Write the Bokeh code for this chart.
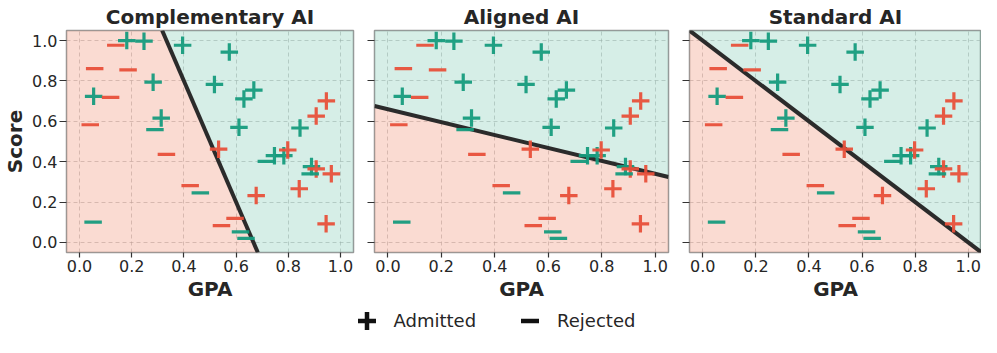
import numpy as np
from bokeh.plotting import figure
from bokeh.layouts import row, column
from bokeh.models import (Range1d, FixedTicker, PrintfTickFormatter, Legend,
                          LegendItem, ColumnDataSource, CustomJSTickFormatter)
from bokeh.core.properties import field
from bokeh.embed import file_html
from bokeh.resources import INLINE

# ---------------- data ----------------
titles = ["Complementary AI", "Aligned AI", "Standard AI"]
# decision boundary: a*GPA + b*Score = c  (admit side >= c)
boundary_a = [3.0, 0.32, 1.0]
boundary_b = [1.0, 1.0, 1.0]
boundary_c = [2.0, 0.66, 1.0]

gpa = [0.181, 0.247, 0.395, 0.574, 0.282, 0.517, 0.054, 0.668, 0.630, 0.313,
       0.611, 0.845, 0.747, 0.783, 0.889,
       0.533, 0.946, 0.907, 0.798, 0.907, 0.965, 0.842, 0.677, 0.945,
       0.289, 0.716, 0.463, 0.052, 0.617, 0.638, 0.884,
       0.139, 0.058, 0.186, 0.119, 0.041, 0.333, 0.424, 0.596, 0.544]
score = [1.000, 0.997, 0.977, 0.943, 0.794, 0.783, 0.724, 0.755, 0.711, 0.616,
         0.570, 0.567, 0.430, 0.430, 0.376,
         0.462, 0.701, 0.626, 0.458, 0.364, 0.340, 0.266, 0.232, 0.092,
         0.559, 0.402, 0.245, 0.101, 0.052, 0.020, 0.340,
         0.977, 0.861, 0.855, 0.719, 0.583, 0.436, 0.281, 0.119, 0.083]
admitted = [1] * 15 + [1] * 9 + [0] * 7 + [0] * 9
qualified = [1] * 15 + [0] * 9 + [1] * 7 + [0] * 9

tick_values = [0.0, 0.2, 0.4, 0.6, 0.8, 1.0]
axis_lo, axis_hi = -0.05, 1.05
legend_labels = ["Admitted", "Rejected"]

# ---------------- style ----------------
GREEN = "#169b7d"
RED = "#e8503a"
SHADE_GREEN = "#5bbb9f"
SHADE_RED = "#eb6f4b"
FONT = "DejaVu Sans"
TXT = "#262626"


def clip_halfplane(poly, a, b, c, keep_ge):
    out = []
    n = len(poly)
    for i in range(n):
        p, q = poly[i], poly[(i + 1) % n]
        fp = a * p[0] + b * p[1] - c
        fq = a * q[0] + b * q[1] - c
        if not keep_ge:
            fp, fq = -fp, -fq
        if fp >= 0:
            out.append(p)
        if (fp >= 0) != (fq >= 0):
            t = fp / (fp - fq)
            out.append((p[0] + t * (q[0] - p[0]), p[1] + t * (q[1] - p[1])))
    return out


src = ColumnDataSource(dict(
    x=gpa, y=score,
    m=["cross" if a else "dash" for a in admitted],
    col=[GREEN if q else RED for q in qualified],
))

rect = [(axis_lo, axis_lo), (axis_hi, axis_lo), (axis_hi, axis_hi), (axis_lo, axis_hi)]

figs = []
widths = [363, 315, 303]
borders_left = [59, 11, 11]
borders_right = [10, 10, 0]
for i, t in enumerate(titles):
    p = figure(width=widths[i], height=305, x_range=Range1d(axis_lo, axis_hi),
               y_range=Range1d(axis_lo, axis_hi), toolbar_location=None,
               output_backend="svg", min_border_left=borders_left[i],
               min_border_right=borders_right[i], min_border_top=28,
               min_border_bottom=53)
    p.title.text = t
    p.title.align = "center"
    p.title.text_font = FONT
    p.title.text_font_size = "20px"
    p.title.text_font_style = "bold"
    p.title.text_color = TXT
    p.title.standoff = 4
    p.outline_line_color = "#999999"
    p.outline_line_width = 1.5

    a, b, c = boundary_a[i], boundary_b[i], boundary_c[i]
    good = clip_halfplane(rect, a, b, c, True)
    bad = clip_halfplane(rect, a, b, c, False)
    p.patch([q[0] for q in bad], [q[1] for q in bad], fill_color=SHADE_RED,
            fill_alpha=0.25, line_color=None)
    p.patch([q[0] for q in good], [q[1] for q in good], fill_color=SHADE_GREEN,
            fill_alpha=0.25, line_color=None)
    seg = [q for q in good if abs(a * q[0] + b * q[1] - c) < 1e-9]
    p.line([q[0] for q in seg], [q[1] for q in seg], line_color="#2b2b2b",
           line_width=4)

    p.scatter("x", "y", marker=field("m"), source=src, line_color="col",
              fill_color="col", size=17.5, line_width=3.2, line_alpha=0.95)

    for ax in (p.xaxis[0], p.yaxis[0]):
        ax.ticker = FixedTicker(ticks=tick_values)
        ax.formatter = PrintfTickFormatter(format="%.1f")
        ax.axis_line_color = None
        ax.major_tick_line_color = "#333333"
        ax.major_tick_line_width = 1.2
        ax.minor_tick_line_color = None
        ax.major_tick_in = 0
        ax.major_label_text_font = FONT
        ax.major_label_text_font_size = "16px"
        ax.major_label_text_color = TXT
        ax.axis_label_text_font = FONT
        ax.axis_label_text_font_size = "20px"
        ax.axis_label_text_font_style = "bold"
        ax.axis_label_text_color = TXT
    p.xaxis.major_tick_out = 5
    p.xaxis.major_label_standoff = 2
    p.xaxis.axis_label = "GPA"
    p.xaxis.axis_label_standoff = 2
    p.yaxis.major_tick_out = 7
    if i == 0:
        p.yaxis.axis_label = "Score"
        p.yaxis.major_label_standoff = 2
        p.yaxis.axis_label_standoff = 2
    else:
        p.yaxis.formatter = CustomJSTickFormatter(code="return ''")
        p.yaxis.major_label_standoff = 0
    p.grid.ticker = FixedTicker(ticks=tick_values)
    p.grid.grid_line_color = "#b0b0b0"
    p.grid.grid_line_alpha = 0.6
    p.grid.grid_line_dash = "4 3"
    p.grid.grid_line_width = 1
    figs.append(p)

# ---------------- legend ----------------
leg = figure(width=981, height=30, x_range=Range1d(0, 1), y_range=Range1d(0, 1),
             toolbar_location=None, output_backend="svg", min_border=0,
             x_axis_location=None, y_axis_location=None)
leg.grid.visible = False
leg.outline_line_color = None
r_adm = leg.scatter([np.nan], [np.nan], marker="cross", size=18,
                    line_color="#111111", line_width=4.5)
r_rej = leg.scatter([np.nan], [np.nan], marker="dash", size=18,
                    line_color="#111111", line_width=4.5)
legend = Legend(items=[LegendItem(label=legend_labels[0], renderers=[r_adm]),
                       LegendItem(label=legend_labels[1], renderers=[r_rej])],
                orientation="horizontal", location=(343.5, -7.5),
                glyph_width=45, glyph_height=45, padding=0, margin=0,
                spacing=31, label_standoff=5, border_line_color=None,
                background_fill_alpha=0, label_text_font=FONT,
                label_text_font_size="18px", label_text_color=TXT)
leg.add_layout(legend, "center")

layout = column(row(*figs), leg)
open("out.html", "w").write(file_html(layout, INLINE))
